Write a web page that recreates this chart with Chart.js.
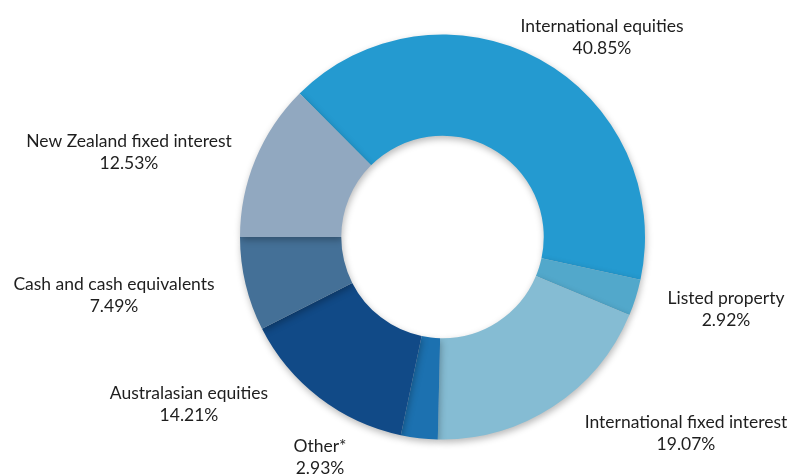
<!DOCTYPE html>
<html lang="en">
<head>
    <meta charset="UTF-8">
    <title>Asset allocation</title>
    <script src="https://cdn.jsdelivr.net/npm/chart.js@4.4.1/dist/chart.umd.min.js"></script>
    <style>
        html, body {
            margin: 0;
            padding: 0;
            background: #ffffff;
        }

        #wrap {
            width: 793px;
            height: 475px;
            position: relative;
        }
    </style>
</head>
<body>
    <div id="wrap">
        <canvas id="allocChart"></canvas>
    </div>

    <script>
        // data, clockwise from International equities
        const categories = [
            'International equities',
            'Listed property',
            'International fixed interest',
            'Other*',
            'Australasian equities',
            'Cash and cash equivalents',
            'New Zealand fixed interest'
        ];
        const shares = [40.85, 2.92, 19.07, 2.93, 14.21, 7.49, 12.53];
        const sliceColors = ['#249ad0', '#52a8cb', '#85bcd3', '#1c71b0', '#114a87', '#447097', '#91a8c0'];

        // label anchors (centre of the first label line) in canvas pixels
        const labelAnchors = [
            [602, 26], [726, 298], [686, 422], [320, 446],
            [189, 393], [114, 284], [129, 141]
        ];

        const labelPlugin = {
            id: 'sliceLabels',
            afterDraw(chart) {
                const ctx = chart.ctx;
                ctx.save();
                ctx.fillStyle = '#1e1e1e';
                ctx.font = '17.5px Lato';
                ctx.textAlign = 'center';
                ctx.textBaseline = 'middle';
                categories.forEach((name, i) => {
                    const [x, y] = labelAnchors[i];
                    ctx.fillText(name, x, y);
                    ctx.fillText(shares[i].toFixed(2) + '%', x, y + 22);
                });
                ctx.restore();
            }
        };

        const shadowPlugin = {
            id: 'softShadow',
            beforeDatasetsDraw(chart) {
                const ctx = chart.ctx;
                ctx.save();
                ctx.shadowColor = 'rgba(0, 0, 0, 0.28)';
                ctx.shadowBlur = 7;
                ctx.shadowOffsetX = 1;
                ctx.shadowOffsetY = 3;
            },
            afterDatasetsDraw(chart) {
                chart.ctx.restore();
            }
        };

        // start angle so that the Cash / NZ boundary sits at 9 o'clock
        const beforeLast = shares.slice(0, shares.length - 1).reduce((a, b) => a + b, 0);
        const startRotation = 270 - beforeLast * 3.6;

        new Chart(document.getElementById('allocChart'), {
            type: 'doughnut',
            data: {
                labels: categories,
                datasets: [{
                    data: shares,
                    backgroundColor: sliceColors,
                    borderWidth: 0
                }]
            },
            options: {
                responsive: true,
                maintainAspectRatio: false,
                animation: false,
                rotation: startRotation,
                cutout: '50%',
                layout: {
                    padding: { top: 34, bottom: 35, left: 240, right: 148 }
                },
                plugins: {
                    legend: { display: false },
                    tooltip: { enabled: false }
                }
            },
            plugins: [shadowPlugin, labelPlugin]
        });
    </script>
</body>
</html>
